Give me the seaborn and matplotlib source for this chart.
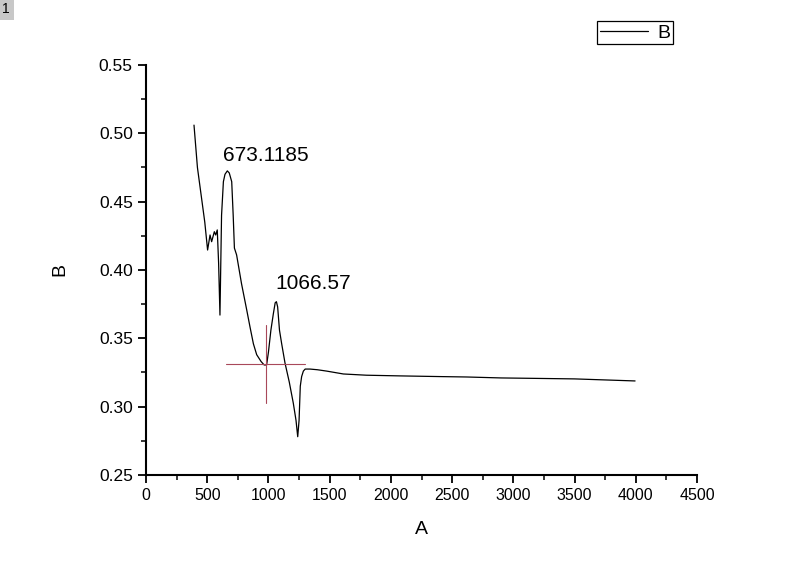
import matplotlib
matplotlib.use('Agg')
import matplotlib.pyplot as plt
import seaborn as sns
import pandas as pd
from matplotlib.ticker import MultipleLocator

# valores
A = [392, 420, 450, 480, 503, 523, 536, 558, 569, 582, 593, 604, 617, 632,
     645, 664, 680, 700, 712, 722, 740, 780, 822, 850, 877, 904, 940, 965,
     985, 1000, 1020, 1040, 1055, 1065, 1075, 1090, 1108, 1135, 1170, 1203, 1225,
     1239, 1250, 1260, 1271, 1285, 1300, 1339, 1400, 1476, 1612, 1800, 2074,
     2400, 2619, 2900, 3163, 3500, 3994]
B = [0.506, 0.475, 0.455, 0.435, 0.4146, 0.4256, 0.4207, 0.428, 0.4256, 0.4293, 0.405, 0.367, 0.44, 0.4646,
     0.470, 0.4725, 0.471, 0.4646, 0.440, 0.416, 0.411, 0.390, 0.371, 0.358, 0.346, 0.338, 0.333, 0.3305,
     0.3305, 0.340, 0.356, 0.368, 0.376, 0.3768, 0.373, 0.356, 0.346, 0.332, 0.318, 0.3025, 0.290,
     0.278, 0.290, 0.315, 0.322, 0.326, 0.3275, 0.3275, 0.327, 0.326, 0.3239, 0.323, 0.3225,
     0.322, 0.3217, 0.321, 0.3207, 0.3203, 0.3188]

picos_txt = ['673.1185', '1066.57']
picos_pos = [(629, 0.484), (1054, 0.390)]

# cursor (cruz vermelha)
cruz_x, cruz_y = 983, 0.331
cruz_hx = (653, 1299)
cruz_vy = (0.3025, 0.3598)

df = pd.DataFrame({'A': A, 'B': B})

sns.set_style('ticks')
plt.rcParams['font.family'] = ['Liberation Sans', 'DejaVu Sans']
plt.rcParams['text.color'] = 'black'
plt.rcParams['axes.labelcolor'] = 'black'

fig = plt.figure(figsize=(8, 5.67), dpi=100)
ax = fig.add_axes([0.1825, 0.1623, 0.6888, 0.7231])

sns.lineplot(data=df, x='A', y='B', ax=ax, color='black', linewidth=0.9,
             estimator=None, sort=False, label='B', legend=False)

ax.plot(cruz_hx, [cruz_y, cruz_y], color='#a8485a', linewidth=0.8)
ax.plot([cruz_x, cruz_x], cruz_vy, color='#a8485a', linewidth=0.8)

for txt, (tx, ty) in zip(picos_txt, picos_pos):
    ax.text(tx, ty, txt, fontsize=15, va='center', ha='left', color='black')

ax.set_xlim(0, 4500)
ax.set_ylim(0.25, 0.55)
ax.xaxis.set_major_locator(MultipleLocator(500))
ax.xaxis.set_minor_locator(MultipleLocator(250))
ax.yaxis.set_major_locator(MultipleLocator(0.05))
ax.yaxis.set_minor_locator(MultipleLocator(0.025))
ax.yaxis.set_major_formatter(plt.FormatStrFormatter('%.2f'))

sns.despine(ax=ax)
for s in ['left', 'bottom']:
    ax.spines[s].set_linewidth(1.5)
    ax.spines[s].set_color('black')
ax.tick_params(which='major', direction='out', length=6, width=1.3, colors='black')
ax.tick_params(which='minor', direction='out', length=3.5, width=1.1, colors='black')
ax.tick_params(axis='x', which='major', labelsize=11.5)
ax.tick_params(axis='y', which='major', labelsize=12.5)

ax.set_xlabel('A', fontsize=14, labelpad=13)
ax.set_ylabel('B', fontsize=14, labelpad=22)

leg = fig.legend(loc='upper left', bbox_to_anchor=(0.746, 0.963), fontsize=14,
                 handlelength=2.5, handletextpad=0.45, borderpad=0.15, borderaxespad=0,
                 fancybox=False, framealpha=1, edgecolor='black')
leg.get_frame().set_linewidth(0.9)

fig.text(0.003, 0.997, '1', fontsize=10, ha='left', va='top',
         bbox=dict(boxstyle='square,pad=0.3', facecolor='#c8c8c8', edgecolor='none'))

fig.savefig('out.png', dpi=100)
